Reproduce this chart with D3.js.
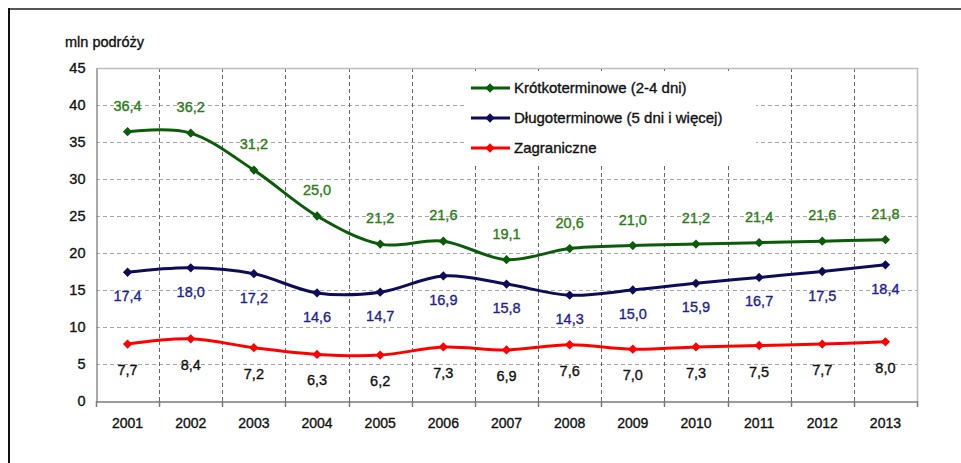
<!DOCTYPE html>
<html>
    <head>
        <meta charset="utf-8" />
        <title>Podróże</title>
        <script src="https://d3js.org/d3.v7.min.js"></script>
        <style>
            body {
                margin: 0;
                background: #fff;
            }
            * {
                font-family: Arial, 'Liberation Sans', sans-serif;
            }
            text {
                stroke-width: 0.35px;
                paint-order: stroke;
            }
        </style>
    </head>
    <body>
        <script>
            const years = ['2001', '2002', '2003', '2004', '2005', '2006', '2007', '2008', '2009', '2010', '2011', '2012', '2013'];
            const krotko = [36.4, 36.2, 31.2, 25.0, 21.2, 21.6, 19.1, 20.6, 21.0, 21.2, 21.4, 21.6, 21.8];
            const dlugo = [17.4, 18.0, 17.2, 14.6, 14.7, 16.9, 15.8, 14.3, 15.0, 15.9, 16.7, 17.5, 18.4];
            const zagr = [7.7, 8.4, 7.2, 6.3, 6.2, 7.3, 6.9, 7.6, 7.0, 7.3, 7.5, 7.7, 8.0];
            const yTicks = [0, 5, 10, 15, 20, 25, 30, 35, 40, 45];

            const series = [
                { name: 'Krótkoterminowe (2-4 dni)', values: krotko, color: '#0a5c0a', labelColor: '#2a7d14', dy: -26 },
                { name: 'Długoterminowe (5 dni i więcej)', values: dlugo, color: '#0c0c5a', labelColor: '#1e1e96', dy: 24 },
                { name: 'Zagraniczne', values: zagr, color: '#ff0000', labelColor: '#111', dy: 26 }
            ];

            const W = 961, H = 463;
            const pL = 96, pR = 917, pT = 68, pB = 401;

            const svg = d3.select('body').append('svg').attr('width', W).attr('height', H);

            // outer frame (top and left edges visible)
            svg.append('line').attr('x1', 8).attr('x2', W).attr('y1', 9).attr('y2', 9).attr('stroke', '#555').attr('stroke-width', 2);
            svg.append('line').attr('x1', 9).attr('x2', 9).attr('y1', 8).attr('y2', H).attr('stroke', '#111').attr('stroke-width', 2);

            const x = d3.scaleBand().domain(years).range([pL, pR]);
            const y = d3.scaleLinear().domain([0, 45]).range([pB, pT]);

            // horizontal grid
            svg.append('g')
                .selectAll('line')
                .data(yTicks.filter((d) => d > 0 && d < 45))
                .join('line')
                .attr('x1', pL)
                .attr('x2', pR)
                .attr('y1', (d) => Math.round(y(d)) + 0.5)
                .attr('y2', (d) => Math.round(y(d)) + 0.5)
                .attr('stroke', '#a6a6a6')
                .attr('stroke-dasharray', '4,3');

            // vertical grid at category boundaries
            const bounds = years.slice(1).map((d) => x(d));
            svg.append('g')
                .selectAll('line')
                .data(bounds)
                .join('line')
                .attr('x1', (d) => Math.round(d) + 0.5)
                .attr('x2', (d) => Math.round(d) + 0.5)
                .attr('y1', pT)
                .attr('y2', pB + 5)
                .attr('stroke', '#666')
                .attr('stroke-dasharray', '4,3');

            // plot border
            svg.append('path')
                .attr('d', `M${pL + 0.5},${pT + 0.5}H${pR + 0.5}V${pB + 0.5}`)
                .attr('fill', 'none')
                .attr('stroke', '#bdbdbd')
                .attr('stroke-width', 1.5);

            // y axis
            const yAxis = svg.append('g').attr('transform', `translate(${pL + 0.5},0)`).call(d3.axisLeft(y).tickValues(yTicks).tickSize(0).tickPadding(11));
            yAxis.select('.domain').attr('stroke', '#8c8c8c').attr('stroke-width', 1.5);
            yAxis.selectAll('text').attr('font-size', 14.5).attr('fill', '#111').attr('stroke', '#111');

            // x axis
            const xAxis = svg.append('g').attr('transform', `translate(0,${pB + 0.5})`).call(d3.axisBottom(x).tickSize(0).tickPadding(17));
            xAxis.select('.domain').attr('stroke', '#7a7a7a').attr('stroke-width', 1.5);
            xAxis.selectAll('text').attr('font-size', 14).attr('fill', '#111').attr('stroke', '#111');
            svg.append('g')
                .selectAll('line')
                .data([pL].concat(bounds, [pR]))
                .join('line')
                .attr('x1', (d) => Math.round(d) + 0.5)
                .attr('x2', (d) => Math.round(d) + 0.5)
                .attr('y1', pB)
                .attr('y2', pB + 6)
                .attr('stroke', '#7a7a7a')
                .attr('stroke-width', 1.5);

            svg.append('text').attr('x', 65).attr('y', 47).attr('font-size', 14.5).attr('fill', '#111').attr('stroke', '#111').text('mln podróży');

            const cx = (i) => x(years[i]) + x.bandwidth() / 2;
            const line = d3
                .line()
                .x((d, i) => cx(i))
                .y((d) => y(d))
                .curve(d3.curveCardinal.tension(0));

            const diamond = d3.symbol().type(d3.symbolDiamond2).size(55);

            series.forEach((s) => {
                svg.append('path').datum(s.values).attr('d', line).attr('fill', 'none').attr('stroke', s.color).attr('stroke-width', 3);
                svg.append('g')
                    .selectAll('path')
                    .data(s.values)
                    .join('path')
                    .attr('d', diamond)
                    .attr('transform', (d, i) => `translate(${cx(i)},${y(d)})`)
                    .attr('fill', s.color);
                svg.append('g')
                    .selectAll('text')
                    .data(s.values)
                    .join('text')
                    .attr('x', (d, i) => cx(i))
                    .attr('y', (d) => y(d) + s.dy)
                    .attr('dy', '0.35em')
                    .attr('text-anchor', 'middle')
                    .attr('font-size', 14.5)
                    .attr('fill', s.labelColor)
                    .attr('stroke', s.labelColor)
                    .text((d) => d.toFixed(1).replace('.', ','));
            });

            // legend
            const legend = svg.append('g');
            legend.append('rect').attr('x', 464).attr('y', 71).attr('width', 292).attr('height', 95).attr('fill', '#fff');
            series.forEach((s, i) => {
                const ly = 88 + i * 30;
                legend.append('line').attr('x1', 471).attr('x2', 510).attr('y1', ly).attr('y2', ly).attr('stroke', s.color).attr('stroke-width', 3);
                legend.append('path').attr('d', diamond).attr('transform', `translate(490,${ly})`).attr('fill', s.color);
                legend.append('text').attr('x', 514).attr('y', ly).attr('dy', '0.35em').attr('font-size', 15).attr('fill', '#111').attr('stroke', '#111').text(s.name);
            });
        </script>
    </body>
</html>
